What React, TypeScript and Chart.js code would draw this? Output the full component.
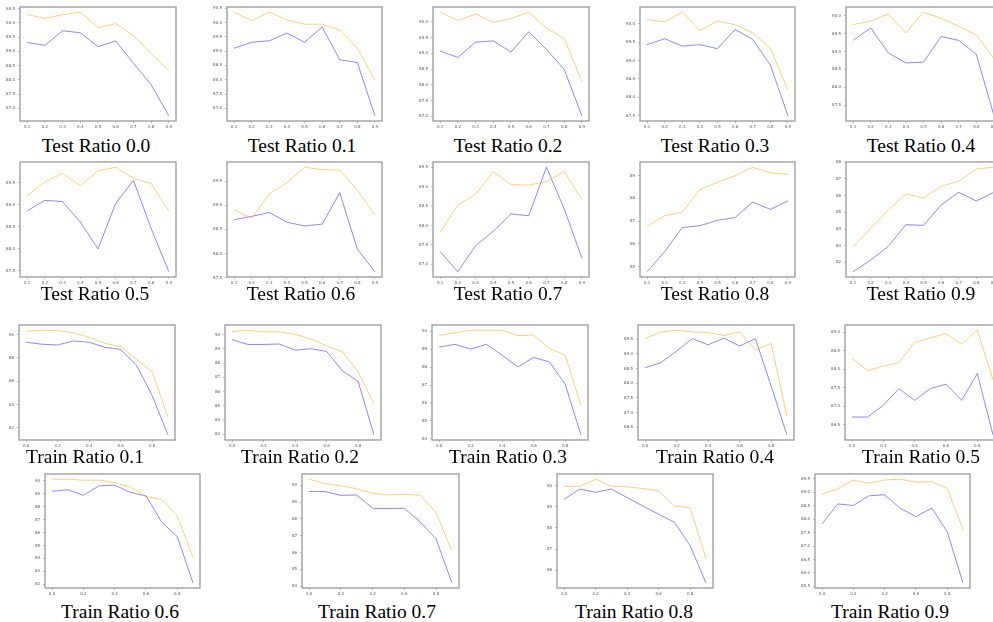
import React, { useEffect, useRef } from "react";
import { Chart, registerables } from "chart.js";
Chart.register(...registerables);

// ---------- x values / ticks ----------
const xTest = [0.1, 0.2, 0.3, 0.4, 0.5, 0.6, 0.7, 0.8, 0.9];
const xTrain = [0.0, 0.1, 0.2, 0.3, 0.4, 0.5, 0.6, 0.7, 0.8, 0.9];
const xTestTicks = [0.1, 0.2, 0.3, 0.4, 0.5, 0.6, 0.7, 0.8, 0.9];
const xTrainTicks = [0.0, 0.2, 0.4, 0.6, 0.8];

// ---------- Test Ratio panels ----------
const test00Orange = [90.29, 90.15, 90.28, 90.37, 89.83, 89.97, 89.55, 88.93, 88.33];
const test00Blue = [89.31, 89.21, 89.72, 89.65, 89.16, 89.36, 88.58, 87.83, 86.74];
const test00YTicks = [87.0, 87.5, 88.0, 88.5, 89.0, 89.5, 90.0, 90.5];

const test01Orange = [90.36, 90.07, 90.36, 90.09, 89.94, 89.94, 89.74, 89.1, 87.98];
const test01Blue = [89.1, 89.31, 89.36, 89.63, 89.31, 89.84, 88.7, 88.6, 86.74];
const test01YTicks = [87.0, 87.5, 88.0, 88.5, 89.0, 89.5, 90.0, 90.5];

const test02Orange = [90.3, 90.04, 90.24, 89.98, 90.1, 90.3, 89.79, 89.47, 88.1];
const test02Blue = [89.07, 88.87, 89.35, 89.39, 89.04, 89.68, 89.12, 88.49, 87.02];
const test02YTicks = [87.0, 87.5, 88.0, 88.5, 89.0, 89.5, 90.0];

const test03Orange = [90.11, 90.05, 90.31, 89.81, 90.07, 89.97, 89.75, 89.33, 88.2];
const test03Blue = [89.43, 89.59, 89.39, 89.43, 89.32, 89.84, 89.57, 88.88, 87.5];
const test03YTicks = [87.5, 88.0, 88.5, 89.0, 89.5, 90.0];

const test04Orange = [89.75, 89.85, 90.05, 89.52, 90.1, 89.93, 89.71, 89.46, 88.8];
const test04Blue = [89.31, 89.66, 88.96, 88.68, 88.7, 89.42, 89.31, 88.92, 87.2];
const test04YTicks = [87.5, 88.0, 88.5, 89.0, 89.5, 90.0];

const test05Orange = [89.2, 89.52, 89.71, 89.43, 89.77, 89.85, 89.6, 89.48, 88.85];
const test05Blue = [88.86, 89.1, 89.07, 88.61, 88.0, 89.03, 89.55, 88.46, 87.48];
const test05YTicks = [87.5, 88.0, 88.5, 89.0, 89.5];

const test06Orange = [88.91, 88.73, 89.24, 89.47, 89.79, 89.74, 89.73, 89.31, 88.79];
const test06Blue = [88.7, 88.77, 88.85, 88.65, 88.57, 88.61, 89.26, 88.09, 87.62];
const test06YTicks = [87.5, 88.0, 88.5, 89.0, 89.5];

const test07Orange = [87.82, 88.53, 88.8, 89.39, 89.05, 89.04, 89.13, 89.39, 88.67];
const test07Blue = [87.33, 86.81, 87.48, 87.85, 88.3, 88.25, 89.5, 88.43, 87.16];
const test07YTicks = [87.0, 87.5, 88.0, 88.5, 89.0, 89.5];

const test08Orange = [86.77, 87.24, 87.4, 88.39, 88.71, 89.0, 89.37, 89.12, 89.06];
const test08Blue = [84.78, 85.66, 86.72, 86.8, 87.04, 87.16, 87.84, 87.52, 87.89];
const test08YTicks = [85, 86, 87, 88, 89];

const test09Orange = [82.92, 84.04, 85.14, 86.1, 85.86, 86.56, 86.86, 87.6, 87.7];
const test09Blue = [81.44, 82.14, 82.96, 84.26, 84.22, 85.44, 86.2, 85.68, 86.2];
const test09YTicks = [82, 83, 84, 85, 86, 87, 88];

// ---------- Train Ratio panels ----------
const train01Orange = [90.29, 90.37, 90.35, 90.14, 89.77, 89.25, 88.96, 87.9, 86.81, 82.95];
const train01Blue = [89.34, 89.17, 89.11, 89.45, 89.34, 88.91, 88.73, 87.38, 84.79, 81.42];
const train01YTicks = [82, 84, 86, 88, 90];

const train02Orange = [90.21, 90.31, 90.19, 90.21, 90.02, 89.69, 89.22, 88.79, 87.38, 85.13];
const train02Blue = [89.65, 89.31, 89.31, 89.34, 88.91, 89.01, 88.82, 87.45, 86.71, 82.96];
const train02YTicks = [83, 84, 85, 86, 87, 88, 89, 90];

const train03Orange = [89.77, 89.91, 90.06, 90.06, 90.06, 89.76, 89.79, 89.04, 88.67, 85.87];
const train03Blue = [89.12, 89.27, 89.01, 89.27, 88.67, 88.01, 88.54, 88.29, 87.04, 84.22];
const train03YTicks = [84, 85, 86, 87, 88, 89, 90];

const train04Orange = [89.53, 89.75, 89.81, 89.75, 89.73, 89.63, 89.75, 89.13, 89.36, 86.87];
const train04Blue = [88.53, 88.7, 89.1, 89.52, 89.31, 89.54, 89.27, 89.52, 87.9, 86.24];
const train04YTicks = [86.5, 87.0, 87.5, 88.0, 88.5, 89.0, 89.5];

const train05Orange = [88.29, 87.97, 88.09, 88.18, 88.73, 88.85, 88.97, 88.68, 89.06, 87.72];
const train05Blue = [86.71, 86.71, 87.03, 87.48, 87.16, 87.48, 87.6, 87.16, 87.89, 86.23];
const train05YTicks = [86.5, 87.0, 87.5, 88.0, 88.5, 89.0];

const train06Orange = [90.13, 90.13, 90.05, 90.05, 89.87, 89.51, 88.79, 88.56, 87.28, 84.11];
const train06Blue = [89.2, 89.31, 88.89, 89.61, 89.67, 89.1, 88.84, 86.81, 85.68, 82.11];
const train06YTicks = [82, 83, 84, 85, 86, 87, 88, 89, 90];

const train07Orange = [90.37, 90.1, 89.98, 89.8, 89.53, 89.43, 89.47, 89.41, 88.4, 86.09];
const train07Blue = [89.64, 89.63, 89.41, 89.43, 88.64, 88.62, 88.64, 87.83, 86.82, 84.2];
const train07YTicks = [84, 85, 86, 87, 88, 89, 90];

const train08Orange = [89.97, 89.97, 90.31, 89.97, 89.95, 89.87, 89.76, 89.04, 88.96, 86.58];
const train08Blue = [89.36, 89.84, 89.69, 89.84, 89.44, 89.04, 88.65, 88.27, 87.16, 85.4];
const train08YTicks = [86, 87, 88, 89, 90];

const train09Orange = [88.93, 89.13, 89.46, 89.34, 89.46, 89.49, 89.38, 89.4, 89.15, 87.61];
const train09Blue = [87.82, 88.57, 88.51, 88.87, 88.91, 88.4, 88.1, 88.41, 87.53, 85.63];
const train09YTicks = [85.5, 86.0, 86.5, 87.0, 87.5, 88.0, 88.5, 89.0, 89.5];

type PanelDef = {
  title: string;
  x: number[];
  xTicks: number[];
  orange: number[];
  blue: number[];
  yTicks: number[];
  digits: number;
};

const panels: PanelDef[] = [
  { title: "Test Ratio 0.0", x: xTest, xTicks: xTestTicks, orange: test00Orange, blue: test00Blue, yTicks: test00YTicks, digits: 1 },
  { title: "Test Ratio 0.1", x: xTest, xTicks: xTestTicks, orange: test01Orange, blue: test01Blue, yTicks: test01YTicks, digits: 1 },
  { title: "Test Ratio 0.2", x: xTest, xTicks: xTestTicks, orange: test02Orange, blue: test02Blue, yTicks: test02YTicks, digits: 1 },
  { title: "Test Ratio 0.3", x: xTest, xTicks: xTestTicks, orange: test03Orange, blue: test03Blue, yTicks: test03YTicks, digits: 1 },
  { title: "Test Ratio 0.4", x: xTest, xTicks: xTestTicks, orange: test04Orange, blue: test04Blue, yTicks: test04YTicks, digits: 1 },
  { title: "Test Ratio 0.5", x: xTest, xTicks: xTestTicks, orange: test05Orange, blue: test05Blue, yTicks: test05YTicks, digits: 1 },
  { title: "Test Ratio 0.6", x: xTest, xTicks: xTestTicks, orange: test06Orange, blue: test06Blue, yTicks: test06YTicks, digits: 1 },
  { title: "Test Ratio 0.7", x: xTest, xTicks: xTestTicks, orange: test07Orange, blue: test07Blue, yTicks: test07YTicks, digits: 1 },
  { title: "Test Ratio 0.8", x: xTest, xTicks: xTestTicks, orange: test08Orange, blue: test08Blue, yTicks: test08YTicks, digits: 0 },
  { title: "Test Ratio 0.9", x: xTest, xTicks: xTestTicks, orange: test09Orange, blue: test09Blue, yTicks: test09YTicks, digits: 0 },
  { title: "Train Ratio 0.1", x: xTrain, xTicks: xTrainTicks, orange: train01Orange, blue: train01Blue, yTicks: train01YTicks, digits: 0 },
  { title: "Train Ratio 0.2", x: xTrain, xTicks: xTrainTicks, orange: train02Orange, blue: train02Blue, yTicks: train02YTicks, digits: 0 },
  { title: "Train Ratio 0.3", x: xTrain, xTicks: xTrainTicks, orange: train03Orange, blue: train03Blue, yTicks: train03YTicks, digits: 0 },
  { title: "Train Ratio 0.4", x: xTrain, xTicks: xTrainTicks, orange: train04Orange, blue: train04Blue, yTicks: train04YTicks, digits: 1 },
  { title: "Train Ratio 0.5", x: xTrain, xTicks: xTrainTicks, orange: train05Orange, blue: train05Blue, yTicks: train05YTicks, digits: 1 },
  { title: "Train Ratio 0.6", x: xTrain, xTicks: xTrainTicks, orange: train06Orange, blue: train06Blue, yTicks: train06YTicks, digits: 0 },
  { title: "Train Ratio 0.7", x: xTrain, xTicks: xTrainTicks, orange: train07Orange, blue: train07Blue, yTicks: train07YTicks, digits: 0 },
  { title: "Train Ratio 0.8", x: xTrain, xTicks: xTrainTicks, orange: train08Orange, blue: train08Blue, yTicks: train08YTicks, digits: 0 },
  { title: "Train Ratio 0.9", x: xTrain, xTicks: xTrainTicks, orange: train09Orange, blue: train09Blue, yTicks: train09YTicks, digits: 1 },
];

// ---------- layout (plot box: left, top, width, height; title: centre x, baseline y) ----------
const layout: { box: [number, number, number, number]; tx: number; ty: number }[] = [
  { box: [20, 7, 156, 114], tx: 96, ty: 152 },
  { box: [227, 7, 155, 114], tx: 302, ty: 152 },
  { box: [433, 7, 156, 114], tx: 508, ty: 152 },
  { box: [640, 7, 155, 114], tx: 715, ty: 152 },
  { box: [846, 7, 155, 114], tx: 921, ty: 152 },
  { box: [20, 162, 156, 115], tx: 95, ty: 300 },
  { box: [227, 162, 155, 115], tx: 301, ty: 300 },
  { box: [433, 162, 156, 115], tx: 508, ty: 300 },
  { box: [640, 162, 155, 115], tx: 715, ty: 300 },
  { box: [846, 162, 155, 115], tx: 921, ty: 300 },
  { box: [19, 325, 156, 115], tx: 85, ty: 463 },
  { box: [225, 325, 156, 115], tx: 300, ty: 463 },
  { box: [432, 325, 156, 115], tx: 508, ty: 463 },
  { box: [638, 325, 156, 115], tx: 715, ty: 463 },
  { box: [845, 325, 155, 115], tx: 921, ty: 463 },
  { box: [45, 474, 155, 114], tx: 120, ty: 618 },
  { box: [302, 474, 157, 114], tx: 377, ty: 618 },
  { box: [557, 474, 156, 114], tx: 634, ty: 618 },
  { box: [815, 474, 155, 114], tx: 890, ty: 618 },
];

const ORANGE = "rgba(255,165,0,0.55)";
const BLUE = "rgba(40,40,255,0.55)";
const SPINE = "#9a9a9a";
const TICK_TEXT = "#555";
const L = 26, T = 6, R = 6, B = 12;

const boxPlugin = {
  id: "boxFrame",
  afterDatasetsDraw(chart: any) {
    const { ctx, chartArea } = chart;
    ctx.save();
    ctx.strokeStyle = SPINE;
    ctx.lineWidth = 1.3;
    ctx.strokeRect(chartArea.left, chartArea.top, chartArea.right - chartArea.left, chartArea.bottom - chartArea.top);
    ctx.restore();
  },
};

function Panel({ p, box }: { p: PanelDef; box: [number, number, number, number] }) {
  const ref = useRef<HTMLCanvasElement>(null);
  const [bx, by, bw, bh] = box;
  useEffect(() => {
    if (!ref.current) return;
    const xMinD = Math.min(...p.x);
    const xMaxD = Math.max(...p.x);
    const xPad = (xMaxD - xMinD) * 0.05;
    const all = [...p.orange, ...p.blue];
    const yMinD = Math.min(...all);
    const yMaxD = Math.max(...all);
    const yPad = (yMaxD - yMinD) * 0.05;
    const tickFont = { family: "DejaVu Sans", size: 4 };
    const chart = new Chart(ref.current, {
      type: "line",
      data: {
        datasets: [
          {
            data: p.x.map((x, i) => ({ x, y: p.orange[i] })),
            borderColor: ORANGE,
            borderWidth: 1,
            pointRadius: 0,
            tension: 0,
            fill: false,
          },
          {
            data: p.x.map((x, i) => ({ x, y: p.blue[i] })),
            borderColor: BLUE,
            borderWidth: 1,
            pointRadius: 0,
            tension: 0,
            fill: false,
          },
        ],
      },
      options: {
        animation: false,
        responsive: false,
        maintainAspectRatio: false,
        devicePixelRatio: 1,
        layout: { padding: { left: 0, top: T, right: R, bottom: 0 } },
        plugins: { legend: { display: false }, tooltip: { enabled: false }, title: { display: false } },
        events: [],
        scales: {
          x: {
            type: "linear",
            min: xMinD - xPad,
            max: xMaxD + xPad,
            afterBuildTicks: (s: any) => {
              s.ticks = p.xTicks.map((v) => ({ value: v }));
            },
            afterFit: (s: any) => {
              s.height = B;
            },
            ticks: {
              autoSkip: false,
              maxRotation: 0,
              minRotation: 0,
              font: tickFont,
              color: TICK_TEXT,
              padding: 1.5,
              callback: (v: any) => Number(v).toFixed(1),
            },
            grid: { display: true, drawOnChartArea: false, drawTicks: true, tickLength: 2, color: "#aaa", lineWidth: 0.8 },
            border: { display: false },
          },
          y: {
            type: "linear",
            min: yMinD - yPad,
            max: yMaxD + yPad,
            afterBuildTicks: (s: any) => {
              s.ticks = p.yTicks.map((v) => ({ value: v }));
            },
            afterFit: (s: any) => {
              s.width = L;
            },
            ticks: {
              autoSkip: false,
              font: tickFont,
              color: TICK_TEXT,
              padding: 3,
              callback: (v: any) => Number(v).toFixed(p.digits),
            },
            grid: { display: true, drawOnChartArea: false, drawTicks: true, tickLength: 2, color: "#aaa", lineWidth: 0.8 },
            border: { display: false },
          },
        },
      },
      plugins: [boxPlugin],
    } as any);
    return () => chart.destroy();
  }, []);
  return (
    <canvas
      ref={ref}
      width={bw + L + R}
      height={bh + T + B}
      style={{ position: "absolute", left: bx - L, top: by - T, width: bw + L + R, height: bh + T + B }}
    />
  );
}

const TITLE_SIZE = 19.5;

export default function App() {
  return (
    <div
      style={{
        position: "fixed",
        left: 0,
        top: 0,
        width: 993,
        height: 622,
        overflow: "hidden",
        background: "#fff",
      }}
    >
      {panels.map((p, i) => (
        <Panel key={p.title} p={p} box={layout[i].box} />
      ))}
      {panels.map((p, i) => (
        <div
          key={"t" + p.title}
          style={{
            position: "absolute",
            left: layout[i].tx,
            top: layout[i].ty - TITLE_SIZE * 0.835,
            transform: "translateX(-50%)",
            fontFamily: "'Liberation Serif', 'Times New Roman', serif",
            fontSize: TITLE_SIZE,
            lineHeight: 1,
            whiteSpace: "nowrap",
            color: "#000",
          }}
        >
          {p.title}
        </div>
      ))}
    </div>
  );
}
